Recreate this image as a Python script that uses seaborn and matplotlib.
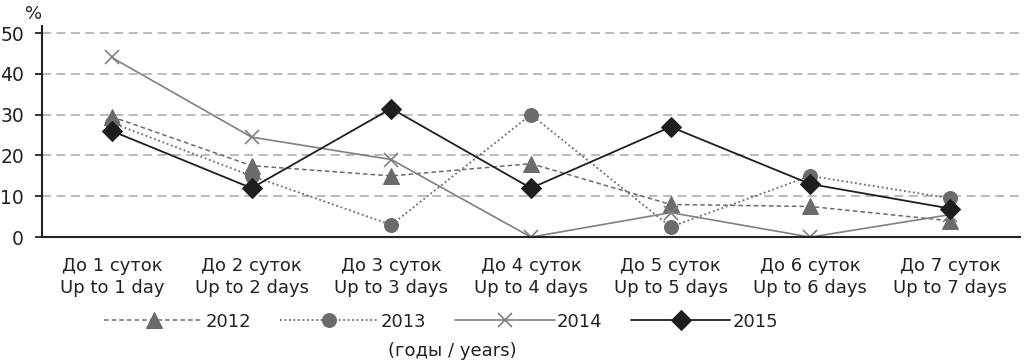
import matplotlib
matplotlib.use("Agg")
import matplotlib.pyplot as plt
import seaborn as sns
import numpy as np
import pandas as pd

categories = ["До 1 суток\nUp to 1 day", "До 2 суток\nUp to 2 days",
              "До 3 суток\nUp to 3 days", "До 4 суток\nUp to 4 days",
              "До 5 суток\nUp to 5 days", "До 6 суток\nUp to 6 days",
              "До 7 суток\nUp to 7 days"]
years = ["2012", "2013", "2014", "2015"]
v2012 = [29.5, 17.5, 15, 18, 8, 7.5, 4]
v2013 = [28, 15, 3, 30, 2.5, 15, 9.5]
v2014 = [44, 24.5, 19, 0, 6, 0, 5.5]
v2015 = [26, 12, 31.5, 12, 27, 13, 7]
yticks = [0, 10, 20, 30, 40, 50]

sns.set_theme(style="white")
plt.rcParams['font.family'] = ['DejaVu Sans']

df = pd.DataFrame({
    "pos": list(range(len(categories))) * 4,
    "year": np.repeat(years, len(categories)),
    "value": v2012 + v2013 + v2014 + v2015,
})

styles = {
    "2012": dict(color="#6b6b6b", linestyle=(0, (3, 2)), marker="^", markersize=11, lw=1.1),
    "2013": dict(color="#6b6b6b", linestyle=(0, (1, 1.5)), marker="o", markersize=10, lw=1.3),
    "2014": dict(color="#808080", linestyle="-", marker="x", markersize=10, lw=1.2, mew=1.2),
    "2015": dict(color="#1e1e1e", linestyle="-", marker="D", markersize=10, lw=1.3),
}

fig = plt.figure(figsize=(10.24, 3.62), dpi=100)
ax = fig.add_axes([0.041, 0.345, 0.955, 0.583])

for y in years:
    st = styles[y]
    sns.lineplot(data=df[df.year == y], x="pos", y="value", ax=ax, label=y,
                 sort=False, markeredgecolor=st["color"], **st)

ax.set_xlim(-0.5, 6.5)
ax.set_ylim(0, 51.7)
ax.set_yticks(yticks)
ax.set_yticklabels([str(t) for t in yticks], fontsize=13.5, color="#222222")
for t in yticks[1:]:
    ax.axhline(t, color="#b5b5b5", lw=1.3, linestyle=(0, (5, 3)), zorder=0)

ax.set_xticks(range(len(categories)))
ax.set_xticklabels(categories, fontsize=13, color="#222222", linespacing=1.35)
ax.set_xticks(np.arange(0.5, 7.0, 1.0), minor=True)
ax.tick_params(axis="x", which="major", length=0, pad=14)
ax.tick_params(axis="x", which="minor", length=13, width=1.3, color="#222222", direction="out")
ax.tick_params(axis="y", length=5, width=1.3, color="#222222", direction="out", pad=8, left=True)

for s in ["top", "right"]:
    ax.spines[s].set_visible(False)
for s in ["left", "bottom"]:
    ax.spines[s].set_color("#222222")
    ax.spines[s].set_linewidth(1.5)

ax.set_xlabel("")
ax.set_ylabel("")
fig.text(0.041, 0.985, "%", fontsize=13, ha="right", va="top", color="#222222")

leg = ax.legend(loc="center", bbox_to_anchor=(0.408, -0.40), ncol=4, frameon=False,
                fontsize=13, handlelength=5.5, handletextpad=0.1, columnspacing=1.6)
for txt in leg.get_texts():
    txt.set_color("#222222")
fig.text(0.442, 0.03, "(годы / years)", ha="center", va="center", fontsize=13, color="#222222")

fig.savefig("out.png", dpi=100)
